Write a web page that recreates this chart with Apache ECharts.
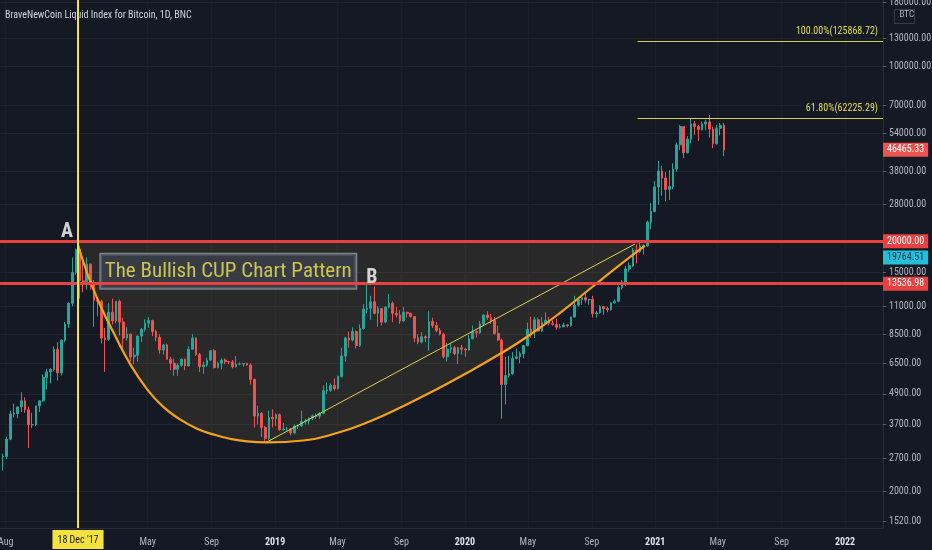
<!DOCTYPE html>
<html><head><meta charset="utf-8">
<script src="https://cdn.jsdelivr.net/npm/echarts@6/dist/echarts.min.js"></script>
<style>html,body{margin:0;padding:0;background:#151924;}#c{width:932px;height:550px;}</style>
</head><body><div id="c"></div>
<script>
const FONT = "'Roboto Condensed','Noto Sans Condensed',Roboto,sans-serif";
const titleText = 'BraveNewCoin Liquid Index for Bitcoin, 1D, BNC';

// Weekly candles (mid-week date of first candle, then one per week)
const firstWeekMid = '2017-07-27';
const weekOpen = [
 2750,2760,3230,4070,4090,4350,4600,4230,3690,3690,4390,4600,5700,6000,6140,7400,5950,8040,9330,11300,15000,18500,13900,
 13800,16200,13600,11600,11500,8200,8100,10400,9600,11500,9500,8200,8500,6900,7000,8350,8900,9400,9650,8700,8250,7350,7700,6750,6500,6150,6380,6750,6350,7400,8200,7050,6300,6400,6700,7300,6250,6500,6700,6600,6580,6300,6450,6450,6480,6400,5600,4000,4100,3600,3250,3950,
 3900,4050,3520,3550,3550,3420,3650,3650,3800,3820,3920,4000,4000,4100,5050,5070,5300,5150,5750,6950,8200,8050,8700,7650,8950,10700,10800,11450,10300,10750,9500,10900,11300,10300,10150,9600,10400,10300,10000,8200,7900,8300,8200,9550,9200,8800,8500,6900,7400,7500,7100,7500,
 7400,7350,8150,8700,8600,9350,10150,9900,9650,8550,8050,5350,5800,5900,6800,6900,7100,7650,8900,8700,9700,8750,9450,9650,9400,9300,9050,9100,9250,9200,9950,11100,11700,11900,11650,11700,10250,10350,10950,10750,10650,11350,11500,13050,13750,15500,15950,18450,18200,19150,19150,23850,26300,
 33000,38150,35800,32250,33100,38900,48600,57500,45200,51200,59000,57500,55900,58900,60000,56200,49100,56600,58200
];
const weekHigh = [
 2830,3300,4200,4480,4350,4980,4750,4370,4120,4400,4620,5860,6180,6200,7600,7880,8100,9500,11400,17200,18700,18700,16500,
 17200,16300,14000,11900,11700,9000,11300,11800,11500,11700,9900,9100,8550,7500,8400,9000,9750,9950,9700,8850,8500,7750,7800,6900,6800,6500,6800,6780,7600,8500,8250,7150,6600,6850,7300,7400,6600,6800,6800,6650,6700,6950,6550,6500,6550,6500,5650,4400,4150,3650,4200,4250,
 4100,4100,3750,3620,3580,3700,3700,4200,3900,3950,4050,4100,4150,5300,5450,5400,5650,5800,7500,8300,8700,9050,8800,9300,11200,13600,12100,13200,11000,10800,11000,12300,11500,10900,10600,10900,10450,10350,10050,8500,8650,8400,10500,9900,9500,9000,8600,7850,7800,7650,7550,7700,
 7500,8450,9200,8800,9600,10200,10500,10250,9950,9200,8150,6900,6950,7200,7450,7250,7700,9450,10000,9950,9900,9950,10400,9950,9650,9800,9350,9450,9350,10000,12100,11900,12100,12450,11750,12100,10550,11100,11000,10950,11400,11700,13300,14000,15950,16450,18800,19400,19900,19450,24200,28400,34800,
 41900,40100,37800,38500,41000,49700,58300,57600,52600,61700,60600,58400,60200,61300,64000,57400,58400,59500,59500
];
const weekLow = [
 2420,2690,3200,3950,3920,4150,4120,2980,3580,3650,4150,4560,5100,5400,6030,5550,5800,7900,9000,11000,14700,11800,12500,
 12800,12800,9100,10000,7800,6000,8000,9300,9400,8400,7300,8000,6600,6450,6600,7900,8700,9000,8350,7950,7100,7050,6700,6100,5800,5800,6300,6100,6300,7400,6950,6000,5900,6300,6650,6200,6200,6150,6450,6450,6200,6250,6380,6300,6350,5350,3600,3700,3300,3180,3200,3600,
 3650,3500,3500,3450,3350,3380,3550,3620,3700,3700,3850,3900,3900,4080,4900,5000,5050,5100,5700,6600,7500,7950,7450,7550,8850,10300,9700,10200,9100,9200,9400,10800,9500,9900,9350,9550,9900,9900,7900,7750,7800,7900,7300,9000,8650,8400,6800,6600,7150,7000,6450,7050,
 6900,7300,8100,8250,8500,9150,9700,9350,8450,8000,3900,4450,5700,5850,6750,6500,6800,7600,8200,8200,8700,8650,9300,9200,9200,8850,8950,9050,9050,9100,9900,10950,11150,11350,11150,9900,9900,10250,10150,10400,10550,11250,11400,12800,13250,15100,15800,16300,18000,17700,19000,22350,26100,
 28000,30400,28900,29250,32300,38000,46300,43000,44900,49300,53300,50400,55500,55600,52000,47100,48700,53000,43800
];
const weekClose = [
 2760,3230,4070,4090,4350,4600,4230,3690,3690,4390,4600,5700,6000,6140,7400,5950,8040,9330,11300,15000,18500,13900,13800,
 16200,13600,11600,11500,8200,8100,10400,9600,11500,9500,8200,8500,6900,7000,8350,8900,9400,9650,8700,8250,7350,7700,6750,6500,6150,6380,6750,6350,7400,8200,7050,6300,6400,6700,7300,6250,6500,6700,6600,6580,6300,6450,6450,6480,6400,5600,4000,4100,3600,3250,3950,3900,
 4050,3520,3550,3550,3420,3650,3650,3800,3820,3920,4000,4000,4100,5050,5070,5300,5150,5750,6950,8200,8050,8700,7650,8950,10700,10800,11450,10300,10750,9500,10900,11300,10300,10150,9600,10400,10300,10000,8200,7900,8300,8200,9550,9200,8800,8500,6900,7400,7500,7100,7500,7400,
 7350,8150,8700,8600,9350,10150,9900,9650,8550,8050,5350,5800,5900,6800,6900,7100,7650,8900,8700,9700,8750,9450,9650,9400,9300,9050,9100,9250,9200,9950,11100,11700,11900,11650,11700,10250,10350,10950,10750,10650,11350,11500,13050,13750,15500,15950,18450,18200,19150,19150,23850,26300,33000,
 38150,35800,32250,33100,38900,48600,57500,45200,51200,59000,57500,55900,58900,60000,56200,49100,56600,58200,46465.33
];

// Axes
const xMin = '2017-07-21', xMax = '2022-03-15';
const priceMin = 1426, priceMax = 184500;
const priceTicks = [1520,2000,2700,3700,4900,6500,8500,11000,15000,20000,28000,38000,54000,70000,100000,130000,180000];
const timeTicks = ['2017-08-01','2018-05-01','2018-09-01','2019-01-01','2019-05-01','2019-09-01','2020-01-01','2020-05-01','2020-09-01','2021-01-01','2021-05-01','2021-09-01','2022-01-01'];
const timeTickLabels = ['Aug','May','Sep','2019','May','Sep','2020','May','Sep','2021','May','Sep','2022'];

// Levels and drawings
const levelHigh = 20000, levelLow = 13536.98, lastPrice = 46465.33, crossPrice = 19764.51;
const fibLevels = [125868.72, 62225.29];
const fibLabels = ['100.00%(125868.72)', '61.80%(62225.29)'];
const fibStart = '2020-11-28';
const markDate = '2017-12-18', markLabel = "18 Dec '17";
const cupDates = ['2017-12-18','2018-01-06','2018-01-30','2018-02-24','2018-03-28','2018-04-30','2018-05-31','2018-07-02','2018-08-04','2018-09-04','2018-10-06','2018-11-08','2018-12-17','2019-02-24','2019-04-30','2019-07-03','2019-09-04','2019-11-08','2020-01-10','2020-03-08','2020-04-29','2020-07-02','2020-09-03','2020-10-25','2020-12-12'];
const cupPrices = [19320,14655,11056,8646,6468,5115,4349,3880,3558,3376,3245,3165,3136,3192,3420,3815,4377,5120,6031,7079,8279,10337,13183,16084,19164];
const trendDates = ['2018-12-14','2020-11-23'];
const trendPrices = [3130,19500];
const noteTexts = ['A','B','The Bullish CUP Chart Pattern'];
const noteDates = ['2017-11-27','2019-07-06','2018-10-03'];
const notePrices = [21830,14300,15170];

const DAY = 86400000;
const T = s => { const p = s.split('-').map(Number); return Date.UTC(p[0], p[1]-1, p[2]); };
const t0 = T(firstWeekMid);
const candles = weekOpen.map((o,i)=>[t0 + i*7*DAY, o, weekClose[i], weekLow[i], weekHigh[i]]);
const timeTickTs = timeTicks.map(T);
const RED = '#e8413f';

const chart = echarts.init(document.getElementById('c'));
const axisBox = (bg, fg, val) => ({show:true, position:'end', distance:0, formatter:Number(val).toFixed(2), backgroundColor:bg, color:fg, opacity:1, padding:[2,4,2,4], fontSize:10, fontFamily:FONT});
const hiddenLine = {color:'rgba(0,0,0,0)', width:0.01, type:'solid'};

const option = {
  backgroundColor:'#151924',
  animation:false,
  title:{text:titleText, left:5, top:10, padding:0, textStyle:{color:'#d1d4dc', fontSize:10, fontWeight:'normal', fontFamily:FONT}},
  grid:{left:0, right:49, top:0, bottom:22, outerBoundsMode:'none', containLabel:false},
  xAxis:{
    type:'value', min:T(xMin), max:T(xMax),
    axisLine:{show:true, lineStyle:{color:'#2a2e39'}},
    axisTick:{show:false, customValues:timeTickTs},
    splitLine:{show:true, lineStyle:{color:'#1b1f2a'}},
    axisLabel:{customValues:timeTickTs, color:'#b2b5be', fontSize:10, fontFamily:FONT, margin:9,
      formatter:v=>{ const i = timeTickTs.indexOf(Number(v)); const s = i>=0 ? timeTickLabels[i] : ''; return /^\d{4}$/.test(s) ? '{y|'+s+'}' : s; },
      rich:{y:{color:'#e0e3eb', fontWeight:'bold', fontSize:10, fontFamily:FONT}}}
  },
  yAxis:{
    type:'log', position:'right', min:priceMin, max:priceMax,
    axisLine:{show:true, lineStyle:{color:'#2a2e39'}},
    axisTick:{show:true, length:3, customValues:priceTicks, lineStyle:{color:'#5d606b'}},
    splitLine:{show:true, lineStyle:{color:'#20242f'}},
    axisLabel:{customValues:priceTicks, formatter:v=>Number(v).toFixed(2), color:'#b2b5be', fontSize:10, fontFamily:FONT, margin:6}
  },
  series:[
    { type:'custom', silent:true, z:1, data:[[T(cupDates[0]), levelHigh]], encode:{x:0,y:1},
      renderItem:(params, api)=>{
        const pts = cupDates.map((d,i)=>api.coord([T(d), cupPrices[i]]));
        pts.push(api.coord([T(cupDates[cupDates.length-1]), levelHigh]));
        pts.push(api.coord([T(cupDates[0]), levelHigh]));
        return {type:'polygon', shape:{points:pts}, style:{fill:'rgba(235,215,90,0.09)'}};
      }},
    { type:'candlestick', z:2, silent:true, barWidth:2.2, data:candles, encode:{x:0, y:[1,2,3,4]},
      itemStyle:{color:'#26a69a', color0:'#ef5350', borderColor:'#26a69a', borderColor0:'#ef5350', borderWidth:1} },
    { type:'scatter', z:3, silent:true, symbolSize:1, itemStyle:{color:'rgba(0,0,0,0)'},
      data:[{value:[T(noteDates[2]), notePrices[2]], label:{show:true, position:'inside', formatter:noteTexts[2], color:'#f2e655', fontSize:21, fontFamily:FONT,
        backgroundColor:'rgba(60,66,78,0.92)', borderColor:'#9098a3', borderWidth:1.5, padding:[7,4,6,4]}}] },
    { type:'line', z:3, silent:true, symbol:'none', data:trendDates.map((d,i)=>[T(d), trendPrices[i]]),
      lineStyle:{color:'#dcd34a', width:1} },
    { type:'line', z:4, silent:true, symbol:'none', smooth:0.5, data:cupDates.map((d,i)=>[T(d), cupPrices[i]]),
      lineStyle:{color:'#f5a21b', width:2.2},
      markLine:{ silent:true, symbol:['none','none'], animation:false,
        data:[
          {yAxis:levelHigh, lineStyle:{color:RED, width:3, type:'solid'}, label:axisBox(RED,'#ffffff',levelHigh)},
          {yAxis:levelLow, lineStyle:{color:RED, width:3, type:'solid'}, label:axisBox(RED,'#ffffff',levelLow)},
          {yAxis:lastPrice, lineStyle:hiddenLine, label:axisBox('#ef5350','#ffffff',lastPrice)},
          {yAxis:crossPrice, lineStyle:hiddenLine, label:Object.assign(axisBox('#22c0d8','#0d2f5a',crossPrice), {offset:[0,15]})},
          {xAxis:T(markDate), lineStyle:{color:'#f5e23c', width:2, type:'solid'},
            label:{show:true, position:'start', distance:2, formatter:markLabel, backgroundColor:'#f5e23c', color:'#1a1a1a', padding:[5,5,4,5], fontSize:10, fontFamily:FONT}},
          [{coord:[T(fibStart), fibLevels[0]], lineStyle:{color:'#d6d24a', width:1, type:'solid'},
            label:{show:true, position:'insideEndTop', formatter:fibLabels[0], color:'#e6dc4e', fontSize:10, fontFamily:FONT, distance:5}},
           {coord:[T(xMax), fibLevels[0]]}],
          [{coord:[T(fibStart), fibLevels[1]], lineStyle:{color:'#d6d24a', width:1, type:'solid'},
            label:{show:true, position:'insideEndTop', formatter:fibLabels[1], color:'#e6dc4e', fontSize:10, fontFamily:FONT, distance:5}},
           {coord:[T(xMax), fibLevels[1]]}]
        ]
      } },
    { type:'scatter', z:5, silent:true, symbolSize:1, itemStyle:{color:'rgba(0,0,0,0)'},
      data:[0,1].map(i=>({value:[T(noteDates[i]), notePrices[i]], label:{show:true, position:'inside', formatter:noteTexts[i], color:'#ffffff', fontSize:20, fontWeight:'bold', fontFamily:FONT}})) }
  ],
  graphic:[
    {type:'rect', right:15, top:7, shape:{width:20, height:14}, style:{fill:'none', stroke:'#363a45', lineWidth:1}},
    {type:'text', right:18, top:10, style:{text:'BTC', fill:'#b2b5be', fontSize:9, fontFamily:FONT}}
  ]
};
chart.setOption(option);
</script>
</body></html>
